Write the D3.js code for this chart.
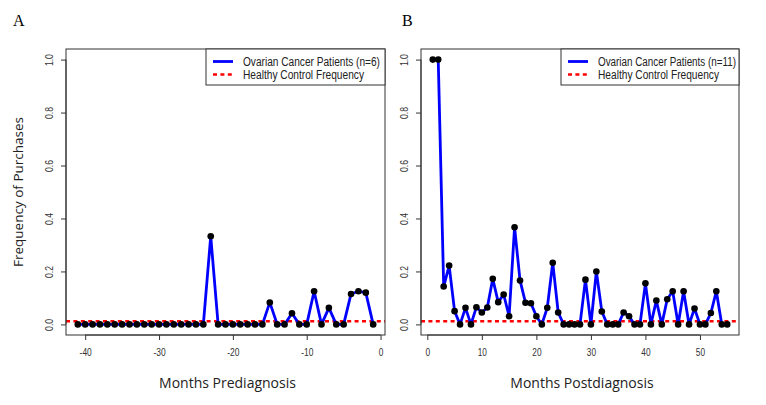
<!DOCTYPE html>
<html>
<head>
<meta charset="utf-8">
<script src="https://cdn.jsdelivr.net/npm/d3@7"></script>
<style>
  html, body { margin: 0; padding: 0; background: #fff; }
  svg { display: block; }
</style>
</head>
<body>
<svg id="chart" width="766" height="405"></svg>
<script>
// ---------- DATA ----------
const monthsPre = d3.range(-41, 0);          // -41 .. -1
const freqPre = [
  0,0,0,0,0,0,0,0,0,0,   // -41..-32
  0,0,0,0,0,0,0,0,       // -31..-24
  0.333,                 // -23
  0,0,0,0,0,0,0,         // -22..-16
  0.083,0,0,0.042,0,0,0.125,0,0.0625,0,0,0.115,0.125,0.12,0  // -15..-1
];
const monthsPost = d3.range(1, 56);          // 1 .. 55
const freqPost = [
  1.0,1.0,0.143,0.222,0.05,0,0.0625,0,0.065,0.045,
  0.064,0.172,0.084,0.113,0.031,0.367,0.166,0.082,0.08,0.031,
  0,0.063,0.233,0.045,0,0,0,0,0.169,0,
  0.2,0.049,0,0,0,0.045,0.031,0,0,0.155,
  0,0.09,0,0.095,0.125,0,0.125,0,0.06,0,
  0,0.043,0.125,0,0
];
const controlFreq = 0.012;
const yTicks = [0, 0.2, 0.4, 0.6, 0.8, 1.0];
const xTicksPre = [-40, -30, -20, -10, 0];
const xTicksPost = [0, 10, 20, 30, 40, 50];
const legendPre = ["Ovarian Cancer Patients (n=6)", "Healthy Control Frequency"];
const legendPost = ["Ovarian Cancer Patients (n=11)", "Healthy Control Frequency"];

// ---------- DRAW ----------
const svg = d3.select("#chart");
const TOP = 49, BOTTOM = 335;
const y = d3.scaleLinear().domain([-0.04, 1.04]).range([BOTTOM, TOP]);
const narrow = "'Liberation Sans', Arial, sans-serif";

function panel(opts) {
  const { months, freq, left, right, xTicks, legend, legendLeft, legendWidths, letter, letterX, xTitle } = opts;
  const ext = d3.extent(months);
  const pad = (ext[1] - ext[0]) * 0.04;
  const x = d3.scaleLinear().domain([ext[0] - pad, ext[1] + pad]).range([left, right]);
  const g = svg.append("g");

  // control line
  g.append("line")
    .attr("x1", left).attr("x2", right)
    .attr("y1", y(controlFreq)).attr("y2", y(controlFreq))
    .attr("stroke", "#ff0000").attr("stroke-width", 2.6)
    .attr("stroke-dasharray", "4,3.4");

  // series line
  const line = d3.line().x((d, i) => x(months[i])).y(d => y(d));
  g.append("path").datum(freq)
    .attr("d", line).attr("fill", "none")
    .attr("stroke", "#0000ff").attr("stroke-width", 2.8)
    .attr("stroke-linejoin", "round");

  // points
  g.selectAll("circle.pt").data(freq).enter().append("circle")
    .attr("class", "pt")
    .attr("cx", (d, i) => x(months[i])).attr("cy", d => y(d))
    .attr("r", 3.3).attr("fill", "#000");

  // box
  g.append("rect")
    .attr("x", left).attr("y", TOP)
    .attr("width", right - left).attr("height", BOTTOM - TOP)
    .attr("fill", "none").attr("stroke", "#333").attr("stroke-width", 1);

  // x axis
  const xa = g.append("g").attr("transform", `translate(0,${BOTTOM})`)
    .call(d3.axisBottom(x).tickValues(xTicks).tickSize(5).tickSizeOuter(0).tickPadding(9)
      .tickFormat(d3.format("d")));
  xa.select(".domain").attr("stroke", "#333").attr("d",
    `M${x(xTicks[0])},0H${x(xTicks[xTicks.length - 1])}`);
  xa.selectAll(".tick line").attr("stroke", "#333");
  xa.selectAll(".tick text").attr("fill", "#333")
    .style("font-family", narrow)
    .style("font-size", "10px")
    .text(d => d < 0 ? "-" + Math.abs(d) : d)
    .attr("textLength", d => (String(Math.abs(d)).length * 4.6 + (d < 0 ? 3 : 0)))
    .attr("lengthAdjust", "spacingAndGlyphs");

  // y axis
  const ya = g.append("g").attr("transform", `translate(${left},0)`)
    .call(d3.axisLeft(y).tickValues(yTicks).tickSize(5).tickSizeOuter(0).tickFormat(d3.format(".1f")));
  ya.select(".domain").attr("stroke", "#333").attr("d",
    `M0,${y(yTicks[0])}V${y(yTicks[yTicks.length - 1])}`);
  ya.selectAll(".tick line").attr("stroke", "#333");
  ya.selectAll(".tick text")
    .attr("fill", "#333")
    .attr("x", null).attr("dy", null)
    .attr("transform", "translate(-17,0) rotate(-90)")
    .attr("text-anchor", "middle")
    .attr("dominant-baseline", "central")
    .style("font-family", narrow)
    .style("font-size", "10px")
    .attr("textLength", 12).attr("lengthAdjust", "spacingAndGlyphs");

  // legend
  const lg = g.append("g");
  lg.append("rect").attr("x", legendLeft).attr("y", TOP)
    .attr("width", right - legendLeft).attr("height", 36)
    .attr("fill", "#fff").attr("stroke", "#333").attr("stroke-width", 1);
  lg.append("line").attr("x1", legendLeft + 7).attr("x2", legendLeft + 27)
    .attr("y1", TOP + 12.5).attr("y2", TOP + 12.5)
    .attr("stroke", "#0000ff").attr("stroke-width", 2.8);
  lg.append("line").attr("x1", legendLeft + 7).attr("x2", legendLeft + 27)
    .attr("y1", TOP + 25.5).attr("y2", TOP + 25.5)
    .attr("stroke", "#ff0000").attr("stroke-width", 2.6).attr("stroke-dasharray", "4,3.4");
  legend.forEach((t, i) => {
    lg.append("text").attr("x", legendLeft + 37).attr("y", TOP + 17 + i * 13)
      .attr("fill", "#222")
      .style("font-family", narrow)
      .style("font-size", "12px")
      .attr("textLength", legendWidths[i]).attr("lengthAdjust", "spacingAndGlyphs")
      .text(t);
  });

  // x title
  svg.append("text").attr("x", (left + right) / 2 + 2).attr("y", 388)
    .attr("text-anchor", "middle").attr("fill", "#222")
    .style("font-family", "'Open Sans', Lato, sans-serif").style("font-size", "14px")
    .text(xTitle);

  // panel letter
  svg.append("text").attr("x", letterX).attr("y", 26)
    .attr("fill", "#000")
    .style("font-family", "'Liberation Serif', 'DejaVu Serif', serif").style("font-size", "16px")
    .text(letter);
}

panel({ months: monthsPre, freq: freqPre, left: 66, right: 385, xTicks: xTicksPre,
        legend: legendPre, legendLeft: 206, legendWidths: [137, 121],
        letter: "A", letterX: 13, xTitle: "Months Prediagnosis" });
panel({ months: monthsPost, freq: freqPost, left: 421, right: 739, xTicks: xTicksPost,
        legend: legendPost, legendLeft: 561, legendWidths: [138, 121],
        letter: "B", letterX: 402, xTitle: "Months Postdiagnosis" });

// y title
svg.append("text")
  .attr("transform", `translate(23,${y(0.5)}) rotate(-90)`)
  .attr("text-anchor", "middle").attr("fill", "#222")
  .style("font-family", "'Open Sans', Lato, sans-serif").style("font-size", "13.5px")
  .text("Frequency of Purchases");
</script>
</body>
</html>
